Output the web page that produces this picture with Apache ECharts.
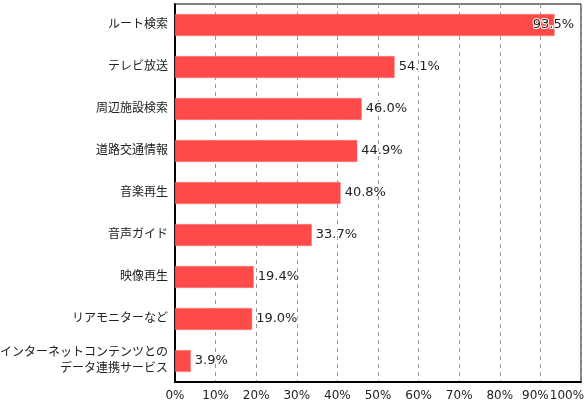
<!DOCTYPE html>
<html>
<head>
<meta charset="utf-8">
<script src="https://cdn.jsdelivr.net/npm/echarts@6/dist/echarts.min.js"></script>
<style>
html,body{margin:0;padding:0;background:#fff;}
#chart{width:586px;height:404px;}
</style>
</head>
<body>
<div id="chart"></div>
<script>
const categories = [
  "ルート検索",
  "テレビ放送",
  "周辺施設検索",
  "道路交通情報",
  "音楽再生",
  "音声ガイド",
  "映像再生",
  "リアモニターなど",
  "インターネットコンテンツとの\nデータ連携サービス"
];
const values = [93.5, 54.1, 46.0, 44.9, 40.8, 33.7, 19.4, 19.0, 3.9];

const FONT = '"DejaVu Sans", "Noto Sans CJK JP", sans-serif';
const chart = echarts.init(document.getElementById('chart'), null, {renderer: 'canvas'});
chart.setOption({
  animation: false,
  backgroundColor: '#fff',
  grid: {
    left: 175, right: 5, top: 4, bottom: 22,
    containLabel: false, outerBoundsMode: 'none',
    show: true, borderColor: '#000', borderWidth: 1, backgroundColor: 'transparent'
  },
  xAxis: {
    type: 'value', min: 0, max: 100, interval: 10,
    axisLine: {show: true, lineStyle: {color: '#000', width: 2}},
    axisTick: {show: false},
    splitLine: {show: true, lineStyle: {color: '#999', type: [4, 4], width: 1}},
    axisLabel: {
      formatter: v => v === 90 ? '{s|' + v + '%}' : (v === 100 ? '{e|' + v + '%}' : v + '%'),
      rich: {
        s: {padding: [0, 10, 0, 0], fontSize: 12, fontFamily: FONT, color: '#222'},
        e: {padding: [0, 28, 0, 0], fontSize: 12, fontFamily: FONT, color: '#222'}
      },
      color: '#222', fontSize: 12, fontFamily: FONT, margin: 8,
      showMinLabel: true, showMaxLabel: true, hideOverlap: false
    }
  },
  yAxis: {
    type: 'category', data: categories, inverse: true,
    axisLine: {show: true, lineStyle: {color: '#000', width: 2}},
    axisTick: {show: false},
    splitLine: {show: false},
    axisLabel: {color: '#222', fontSize: 12, fontFamily: FONT, margin: 7, align: 'right', lineHeight: 16}
  },
  series: [{
    type: 'bar',
    data: values,
    barCategoryGap: '48%',
    itemStyle: {color: '#ff4a4a', borderColor: '#ff7a7a', borderWidth: 0.5},
    label: {
      show: true, position: 'right', distance: 4,
      formatter: p => p.value.toFixed(1) + '%',
      color: '#222', fontSize: 13, fontFamily: FONT,
      textBorderColor: '#fff', textBorderWidth: 2
    },
    labelLayout: params => {
      const r = params.labelRect;
      const limit = 576;
      if (r.x + r.width > limit) {
        return {x: limit - r.width, y: r.y + r.height / 2, align: 'left', verticalAlign: 'middle'};
      }
      return {};
    }
  }]
});
</script>
</body>
</html>
